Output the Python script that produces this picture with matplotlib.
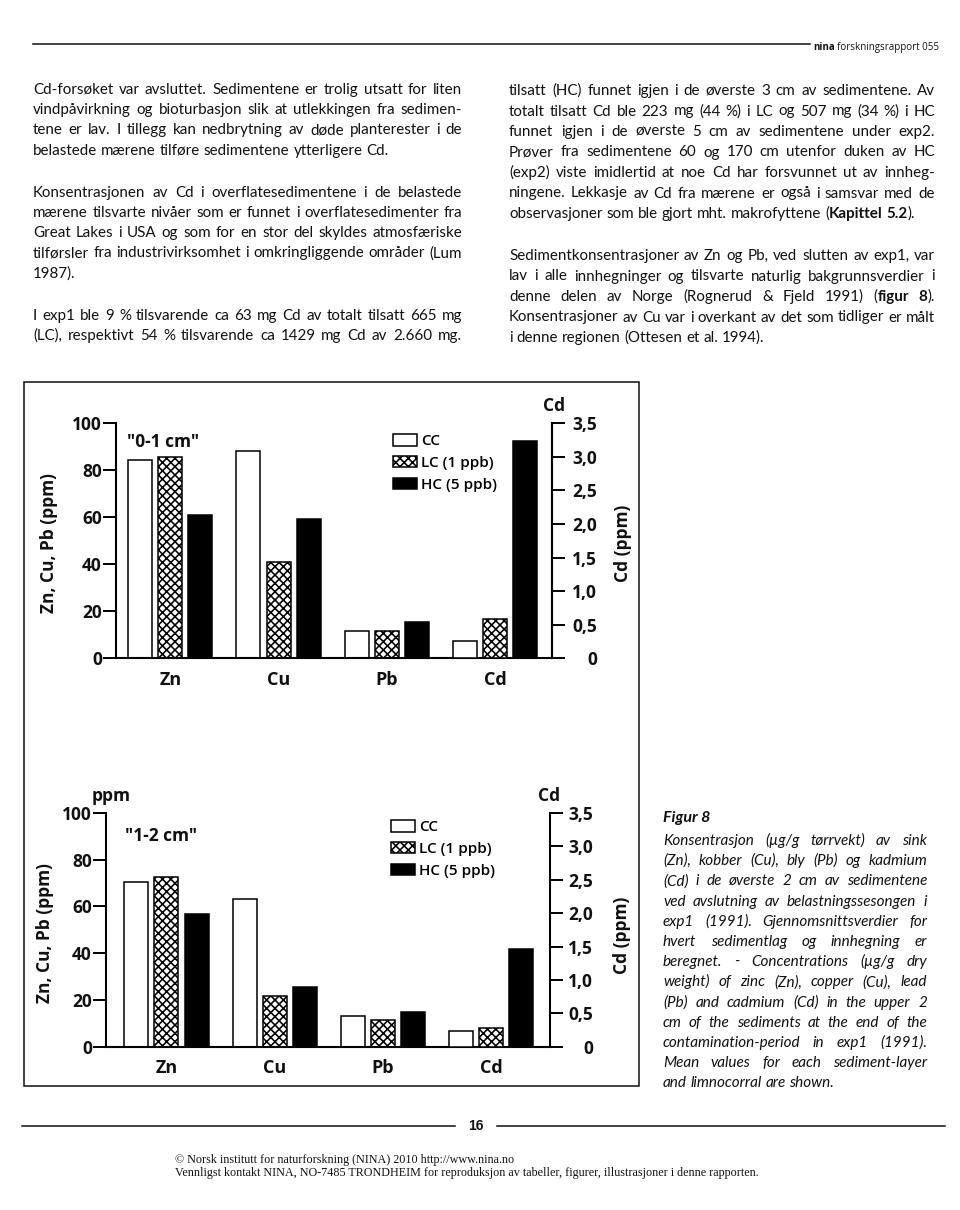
import numpy as np
import matplotlib
matplotlib.use("Agg")
import matplotlib.pyplot as plt
from matplotlib.font_manager import FontProperties
from matplotlib.patches import Rectangle

plt.rcParams["font.family"] = ["Open Sans", "DejaVu Sans"]
plt.rcParams["hatch.linewidth"] = 1.15

W, H = 960, 1210
INK = "#111111"
BODY = "Lato"

# === DATA ===
metals = ["Zn", "Cu", "Pb", "Cd"]
series = ["CC", "LC (1 ppb)", "HC (5 ppb)"]

# "0-1 cm" layer, Zn / Cu / Pb in ppm (left axis)
cc_01 = [84.4, 88.2, 11.8]
lc_01 = [85.8, 40.9, 11.7]
hc_01 = [61.0, 59.3, 15.6]
# Cd in ppm (right axis), CC / LC / HC
cd_01 = [0.26, 0.59, 3.24]

# "1-2 cm" layer
cc_12 = [70.4, 63.0, 13.1]
lc_12 = [72.5, 21.8, 11.4]
hc_12 = [56.8, 25.6, 14.7]
cd_12 = [0.23, 0.28, 1.46]

left_ticks = [0, 20, 40, 60, 80, 100]
right_ticks = [0, 0.5, 1.0, 1.5, 2.0, 2.5, 3.0, 3.5]
right_labels = ["0", "0,5", "1,0", "1,5", "2,0", "2,5", "3,0", "3,5"]

# === PAGE TEXT ===
left_col = [
    (["Cd-forsøket var avsluttet. Sedimentene er trolig utsatt for liten",
      "vindpåvirkning og bioturbasjon slik at utlekkingen fra sedimen-",
      "tene er lav. I tillegg kan nedbrytning av døde planterester i de",
      "belastede mærene tilføre sedimentene ytterligere Cd."], False),
    (["Konsentrasjonen av Cd i overflatesedimentene i de belastede",
      "mærene tilsvarte nivåer som er funnet i overflatesedimenter fra",
      "Great Lakes i USA og som for en stor del skyldes atmosfæriske",
      "tilførsler fra industrivirksomhet i omkringliggende områder (Lum",
      "1987)."], False),
    (["I exp1 ble 9 % tilsvarende ca 63 mg Cd av totalt tilsatt 665 mg",
      "(LC), respektivt 54 % tilsvarende ca 1429 mg Cd av 2.660 mg."], True),
]
right_col = [
    (["tilsatt (HC) funnet igjen i de øverste 3 cm av sedimentene. Av",
      "totalt tilsatt Cd ble 223 mg (44 %) i LC og 507 mg (34 %) i HC",
      "funnet igjen i de øverste 5 cm av sedimentene under exp2.",
      "Prøver fra sedimentene 60 og 170 cm utenfor duken av HC",
      "(exp2) viste imidlertid at noe Cd har forsvunnet ut av innheg-",
      "ningene. Lekkasje av Cd fra mærene er også i samsvar med de",
      "observasjoner som ble gjort mht. makrofyttene (*Kapittel 5.2*)."], False),
    (["Sedimentkonsentrasjoner av Zn og Pb, ved slutten av exp1, var",
      "lav i alle innhegninger og tilsvarte naturlig bakgrunnsverdier i",
      "denne delen av Norge (Rognerud & Fjeld 1991) (*figur 8*).",
      "Konsentrasjoner av Cu var i overkant av det som tidliger er målt",
      "i denne regionen (Ottesen et al. 1994)."], False),
]
caption = [
    (["Konsentrasjon (µg/g tørrvekt) av sink",
      "(Zn), kobber (Cu), bly (Pb) og kadmium",
      "(Cd) i de øverste 2 cm av sedimentene",
      "ved avslutning av belastningssesongen i",
      "exp1 (1991). Gjennomsnittsverdier for",
      "hvert sedimentlag og innhegning er",
      "beregnet. - Concentrations (µg/g dry",
      "weight) of zinc (Zn), copper (Cu), lead",
      "(Pb) and cadmium (Cd) in the upper 2",
      "cm of the sediments at the end of the",
      "contamination-period in exp1 (1991).",
      "Mean values for each sediment-layer",
      "and limnocorral are shown."], False),
]

# === FIGURE ===
fig = plt.figure(figsize=(W / 100, H / 100), dpi=100)
page = fig.add_axes([0, 0, 1, 1], zorder=0)
page.set_xlim(0, W)
page.set_ylim(H, 0)
page.axis("off")
renderer = fig.canvas.get_renderer()


def font(bold=False, size=10, style="normal", family=BODY):
    return FontProperties(family=family, size=size, style=style,
                          weight="bold" if bold else "normal")


def tw(s, fp):
    return renderer.get_text_width_height_descent(s, fp, ismath=False)[0]


def split_words(line):
    words, bold = [], False
    for w in line.split():
        segs = []
        for k, p in enumerate(w.split("*")):
            if k > 0:
                bold = not bold
            if p:
                segs.append((p, bold))
        words.append(segs)
    return words


def space_w(fs, style):
    fp = font(size=fs, style=style)
    return tw("a a", fp) - tw("aa", fp)


def natural(line, fs, style):
    words = split_words(line)
    return (sum(tw(t, font(b, fs, style)) for w in words for t, b in w)
            + space_w(fs, style) * (len(words) - 1))


def fit_size(blocks, width, fs_max, style):
    base = 10.0
    widest = max(natural(l, base, style) for paras in blocks for lines, _ in paras for l in lines)
    return min(fs_max, base * width * 0.99 / widest)


def set_block(paras, xl, xr, y0, step, par_gap, fs, style="normal"):
    y = y0
    sp = space_w(fs, style)
    for lines, cont in paras:
        for j, line in enumerate(lines):
            words = split_words(line)
            widths = [[tw(t, font(b, fs, style)) for t, b in w] for w in words]
            total = sum(sum(ws) for ws in widths)
            last = j == len(lines) - 1 and not cont
            gap = sp if (last or len(words) < 2) else (xr - xl - total) / (len(words) - 1)
            x = xl
            for w, ws in zip(words, widths):
                for (t, b), wi in zip(w, ws):
                    page.text(x, y, t, fontproperties=font(b, fs, style),
                              ha="left", va="baseline", color=INK)
                    x += wi
                x += gap
            y += step
        y += par_gap


# body text, two justified columns
body_fs = fit_size([left_col, right_col], 429, 11, "normal")
set_block(left_col, 33, 462, 94, 20.2, 22, body_fs)
set_block(right_col, 509, 935, 95, 20.5, 21.5, body_fs)

# caption
cap_fs = fit_size([caption], 264, 11, "italic")
page.text(663, 822, "Figur 8", fontproperties=font(True, cap_fs + 0.5, "italic"),
          ha="left", va="baseline", color=INK)
set_block(caption, 663, 927, 845, 20.2, 0, cap_fs, "italic")

# header
page.plot([33, 810], [44, 44], color=INK, lw=1.1)
fp_h = font(True, 7, family="Open Sans")
page.text(813, 50, "nina", fontproperties=fp_h, ha="left", va="baseline", color=INK)
page.text(813 + tw("nina ", fp_h), 50, "forskningsrapport 055",
          fontproperties=font(False, 7, family="Open Sans"),
          ha="left", va="baseline", color=INK)

# footer
page.plot([22, 455], [1126, 1126], color=INK, lw=1.1)
page.plot([497, 945], [1126, 1126], color=INK, lw=1.1)
page.text(476, 1126, "16", family="Liberation Sans", weight="bold", fontsize=10,
          ha="center", va="center", color=INK)
page.text(175, 1163, "© Norsk institutt for naturforskning (NINA) 2010 http://www.nina.no",
          family="Liberation Serif", fontsize=8.7, ha="left", va="baseline", color=INK)
page.text(175, 1176, "Vennligst kontakt NINA, NO-7485 TRONDHEIM for reproduksjon av tabeller, "
          "figurer, illustrasjoner i denne rapporten.",
          family="Liberation Serif", fontsize=8.7, ha="left", va="baseline", color=INK)

# figure frame
page.add_patch(Rectangle((24, 382), 615, 704, fill=False, ec=INK, lw=1.1))

# === CHARTS ===
BW = 0.222
OFF = [-0.278, 0.0, 0.278]
STYLES = [
    dict(facecolor="white", edgecolor="black"),
    dict(facecolor="white", edgecolor="black", hatch="xxxx"),
    dict(facecolor="black", edgecolor="black"),
]
LABEL_KW = dict(fontsize=12.5, fontweight="bold", color=INK)
leg_fp = FontProperties(family="Open Sans", weight="semibold", size=11)


def chart(x0, x1, ytop, ybot, xmin, layer_vals, cd_vals, rpad, leg_xy):
    ax = fig.add_axes([x0 / W, 1 - ybot / H, (x1 - x0) / W, (ybot - ytop) / H], zorder=2)
    ax.patch.set_visible(False)
    ax2 = ax.twinx()
    ax2.patch.set_visible(False)
    pos = np.arange(len(metals) - 1)
    for i, (vals, st) in enumerate(zip(layer_vals, STYLES)):
        ax.bar(pos + OFF[i], vals, BW, linewidth=1.1, label=series[i], **st)
        ax2.bar(len(metals) - 1 + OFF[i], cd_vals[i], BW, linewidth=1.1, **st)
    xmax = xmin + (x1 - x0) / 108.2
    ax.set_xlim(xmin, xmax)
    ax.set_ylim(0, 100)
    ax2.set_ylim(0, 3.5)
    for s in ["top", "right"]:
        ax.spines[s].set_visible(False)
    for s in ["top", "left", "bottom"]:
        ax2.spines[s].set_visible(False)
    ax.spines["left"].set_linewidth(1.5)
    ax.spines["bottom"].set_linewidth(1.5)
    ax2.spines["right"].set_linewidth(1.5)
    ax.tick_params(axis="y", direction="out", length=9.4, width=1.4, pad=0.8)
    ax.tick_params(axis="x", length=0, pad=9)
    ax2.tick_params(axis="y", direction="out", length=9.4, width=1.4, pad=rpad)
    ax.set_yticks(left_ticks, labels=[str(t) for t in left_ticks], **LABEL_KW)
    ax.set_xticks(range(len(metals)), labels=metals, fontsize=13, fontweight="bold", color=INK)
    ax2.set_yticks(right_ticks, labels=right_labels, **LABEL_KW)
    for t in ax2.get_yticklabels():
        t.set_horizontalalignment("right")
    ax.legend(loc="upper left", bbox_to_anchor=(leg_xy[0] / W, 1 - leg_xy[1] / H),
              bbox_transform=fig.transFigure, frameon=False, borderpad=0, borderaxespad=0,
              handlelength=1.6, handleheight=0.8, handletextpad=0.25, labelspacing=0.5,
              prop=leg_fp)
    return ax, ax2


chart(116, 552, 423.3, 658.3, -0.502, [cc_01, lc_01, hc_01], cd_01, 23, (392.7, 434))
chart(106, 550, 813, 1046.7, -0.559, [cc_12, lc_12, hc_12], cd_12, 21.6, (391, 820))

TXT = dict(fontsize=12.5, fontweight="bold", color=INK)
# top chart labels
page.text(49, 543, "Zn, Cu, Pb (ppm)", rotation=90, ha="center", va="center", **TXT)
page.text(127, 442, '"0-1 cm"', ha="left", va="center", **TXT)
page.text(554, 406, "Cd", ha="center", va="center", **TXT)
page.text(623, 543, "Cd (ppm)", rotation=90, ha="center", va="center", **TXT)
# bottom chart labels
page.text(45, 933, "Zn, Cu, Pb (ppm)", rotation=90, ha="center", va="center", **TXT)
page.text(92, 796, "ppm", ha="left", va="center", **TXT)
page.text(125, 836, '"1-2 cm"', ha="left", va="center", **TXT)
page.text(549, 796, "Cd", ha="center", va="center", **TXT)
page.text(622, 935, "Cd (ppm)", rotation=90, ha="center", va="center", **TXT)

fig.savefig("out.png", dpi=100)
